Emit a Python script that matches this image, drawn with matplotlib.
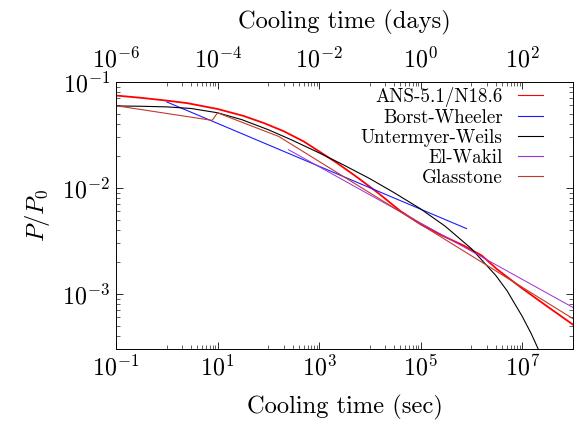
import matplotlib
matplotlib.use("Agg")
import matplotlib.pyplot as plt
import matplotlib.ticker as mticker

plt.rcParams['font.family'] = ['cmr10']
plt.rcParams['mathtext.fontset'] = 'cm'
plt.rcParams['axes.formatter.use_mathtext'] = True

# ---- data ----
ans_t = [0.1, 0.32, 1, 2.5, 10, 32, 80, 200, 500, 1000, 2240, 5600, 1.38e4, 4e4,
         1e5, 2.5e5, 7e5, 1.6e6, 3.2e6, 1e7, 3.2e7, 1e8]
ans_p = [0.0745, 0.0708, 0.0667, 0.0632, 0.0556, 0.0479, 0.0411, 0.0343, 0.0274, 0.0221,
         0.0172, 0.0126, 0.00912, 0.00603, 0.00452, 0.00359, 0.00285, 0.00229, 0.00170,
         0.00112, 0.00075, 0.00051]

bw_t = [1.0, 8.0e5]
bw_p = [0.0648, 0.00412]

uw_t = [0.1, 0.3, 1, 3, 10, 30, 100, 300, 1e3, 3e3, 1e4, 3e4, 1e5, 3e5, 1e6, 3e6,
        5e6, 1e7, 1.5e7, 2e7, 2.5e7]
uw_p = [0.0594, 0.0590, 0.0582, 0.0562, 0.0512, 0.0441, 0.0354, 0.0281, 0.0214, 0.0165,
        0.0122, 0.0090, 0.00632, 0.00436, 0.00266, 0.00149, 0.00107, 0.00061, 0.00042,
        0.00031, 0.00024]

ew_t = [250, 1e8]
ew_p = [0.0229, 0.00074]

gl_t = [0.1, 7.8, 10, 160, 1e8]
gl_p = [0.0597, 0.0434, 0.0511, 0.0306, 0.00058]

sec_ticks = [1e-1, 1e1, 1e3, 1e5, 1e7]
day_ticks = [1e-6, 1e-4, 1e-2, 1e0, 1e2]

fig = plt.figure(figsize=(8, 426/72), dpi=72)
ax = fig.add_axes([116/576, 1-349/426, (573-116)/576, (349-82)/426])

ax.plot(ans_t, ans_p, color='#ff0000', lw=1.8, label='ANS-5.1/N18.6')
ax.plot(bw_t, bw_p, color='#1a1aff', lw=1.1, label='Borst-Wheeler')
ax.plot(uw_t, uw_p, color='black', lw=1.1, label='Untermyer-Weils')
ax.plot(ew_t, ew_p, color='#9a33d6', lw=1.0, label='El-Wakil')
ax.plot(gl_t, gl_p, color='#c0392b', lw=1.1, label='Glasstone')

ax.set_xscale('log')
ax.set_yscale('log')
ax.set_xlim(0.1, 1e8)
ax.set_ylim(3e-4, 1e-1)
ax.set_xticks(sec_ticks)
ax.set_xticks([m * 10.0**k for k in (0, 2, 4, 6) for m in range(1, 10)], minor=True)
ax.xaxis.set_minor_formatter(mticker.NullFormatter())
ax.tick_params(axis='both', which='both', direction='in', top=False, right=True,
               labelsize=24)
ax.tick_params(axis='x', pad=6)
ax.tick_params(axis='y', pad=6)
ax.tick_params(which='major', length=7)
ax.tick_params(which='minor', length=4)
ax.set_xlabel('Cooling time (sec)', fontsize=24.5, labelpad=14)
ax.set_ylabel(r'$P/P_0$', fontsize=24.5, labelpad=10)

ax2 = ax.twiny()
ax2.set_xscale('log')
ax2.set_xlim(1e-6, 1e3)
ax2.set_xticks(day_ticks)
ax2.set_xticks([m * 10.0**k for k in (-5, -3, -1, 1) for m in range(1, 10)], minor=True)
ax2.xaxis.set_minor_formatter(mticker.NullFormatter())
ax2.tick_params(axis='x', which='both', direction='in', labelsize=24, pad=10)
ax2.tick_params(which='major', length=7)
ax2.tick_params(which='minor', length=4)
ax2.set_xlabel('Cooling time (days)', fontsize=24.5, labelpad=18)

leg = ax.legend(loc='upper right', bbox_to_anchor=(0.944, 1.0), frameon=False,
                markerfirst=False, fontsize=19, handlelength=1.3, handletextpad=0.8,
                labelspacing=0.11, borderaxespad=0, borderpad=0.25)
for ln in leg.get_lines():
    ln.set_linewidth(1.1)

fig.savefig('out.png', dpi=72)
